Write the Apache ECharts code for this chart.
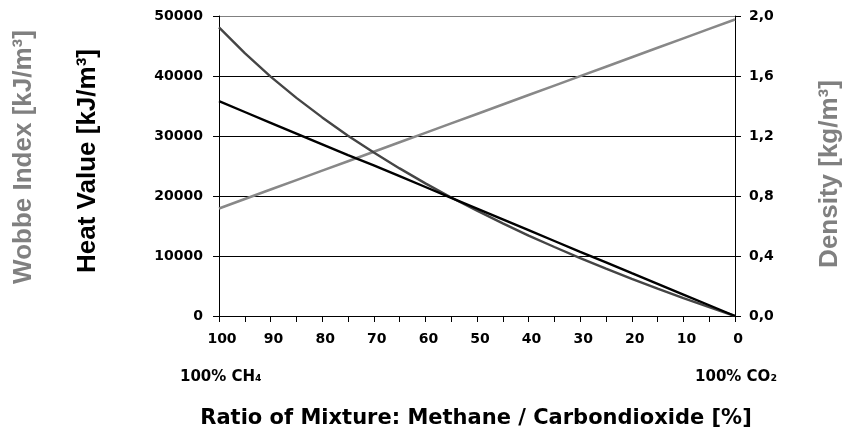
<!DOCTYPE html>
<html>
<head>
<meta charset="utf-8">
<script src="https://cdn.jsdelivr.net/npm/echarts@6/dist/echarts.min.js"></script>
<style>html,body{margin:0;padding:0;background:#fff;}#chart{width:845px;height:441px;}</style>
</head>
<body>
<div id="chart"></div>
<script>
// Ratio of methane in the mixture [%]
const categories = ['100','95','90','85','80','75','70','65','60','55','50','45','40','35','30','25','20','15','10','5','0'];
// Heat value [kJ/m³]
const heatValue = [35800, 34000, 32200, 30400, 28600, 26800, 25100, 23300, 21500, 19700, 17900, 16100, 14300, 12500, 10700, 8950, 7150, 5370, 3580, 1790, 0];
// Wobbe index [kJ/m³]
const wobbeIndex = [48100, 43800, 39900, 36350, 33100, 30050, 27250, 24600, 22100, 19750, 17550, 15450, 13400, 11500, 9650, 7900, 6200, 4570, 2990, 1470, 0];
// Density [kg/m³]
const density = [0.717, 0.780, 0.843, 0.906, 0.969, 1.032, 1.095, 1.158, 1.221, 1.284, 1.347, 1.410, 1.473, 1.536, 1.599, 1.662, 1.725, 1.788, 1.851, 1.914, 1.977];

const labelFont = 'DejaVu Sans';
const titleFont = 'Liberation Sans';

const chart = echarts.init(document.getElementById('chart'), null, {renderer: 'canvas'});
chart.setOption({
  animation: false,
  backgroundColor: '#ffffff',
  grid: {left: 219, right: 110, top: 16, bottom: 125, containLabel: false},
  xAxis: {
    type: 'category',
    data: categories,
    boundaryGap: false,
    axisLine: {lineStyle: {color: '#000', width: 1}},
    axisTick: {show: true, interval: 0, length: 6, inside: false, lineStyle: {color: '#000'}},
    axisLabel: {interval: 1, margin: 16, color: '#000', fontFamily: labelFont, fontWeight: 'bold', fontSize: 14, padding: [0, 0, 0, 6]},
    splitLine: {show: false}
  },
  yAxis: [
    {
      type: 'value', min: 0, max: 50000, interval: 10000, position: 'left',
      axisLine: {show: true, lineStyle: {color: '#000', width: 1}},
      axisTick: {show: true, length: 6, inside: false, lineStyle: {color: '#000'}},
      axisLabel: {margin: 16, color: '#000', fontFamily: labelFont, fontWeight: 'bold', fontSize: 14,
        formatter: v => String(v)},
      splitLine: {show: true, lineStyle: {color: ['#000000','#000000','#000000','#000000','#000000','#808080'], width: 1}}
    },
    {
      type: 'value', min: 0, max: 2.0, interval: 0.4, position: 'right',
      axisLine: {show: true, lineStyle: {color: '#000', width: 1}},
      axisTick: {show: true, length: 6, inside: false, lineStyle: {color: '#000'}},
      axisLabel: {margin: 14, color: '#000', fontFamily: labelFont, fontWeight: 'bold', fontSize: 14,
        formatter: v => v.toFixed(1).replace('.', ',')},
      splitLine: {show: false}
    }
  ],
  series: [
    {name: 'Density', type: 'line', yAxisIndex: 1, data: density, symbol: 'none',
      lineStyle: {color: '#888888', width: 2.6}},
    {name: 'Wobbe Index', type: 'line', yAxisIndex: 0, data: wobbeIndex, symbol: 'none',
      lineStyle: {color: '#454545', width: 2.4}},
    {name: 'Heat Value', type: 'line', yAxisIndex: 0, data: heatValue, symbol: 'none',
      lineStyle: {color: '#000000', width: 2.4}}
  ],
  graphic: [
    {type: 'text', x: 23.5, y: 157, rotation: Math.PI / 2,
      style: {text: 'Wobbe Index [kJ/m³]', fill: '#808080', fontFamily: titleFont, fontWeight: 'bold', fontSize: 26, align: 'center', verticalAlign: 'middle'}},
    {type: 'text', x: 88, y: 161, rotation: Math.PI / 2,
      style: {text: 'Heat Value [kJ/m³]', fill: '#000000', fontFamily: titleFont, fontWeight: 'bold', fontSize: 26, align: 'center', verticalAlign: 'middle'}},
    {type: 'text', x: 830, y: 174, rotation: Math.PI / 2,
      style: {text: 'Density [kg/m³]', fill: '#808080', fontFamily: titleFont, fontWeight: 'bold', fontSize: 26, align: 'center', verticalAlign: 'middle'}},
    {type: 'text', x: 180, y: 377,
      style: {text: '100% CH₄', fill: '#000', fontFamily: labelFont, fontWeight: 'bold', fontSize: 15, align: 'left', verticalAlign: 'middle'}},
    {type: 'text', x: 736, y: 377,
      style: {text: '100% CO₂', fill: '#000', fontFamily: labelFont, fontWeight: 'bold', fontSize: 15, align: 'center', verticalAlign: 'middle'}},
    {type: 'text', x: 476, y: 419,
      style: {text: 'Ratio of Mixture: Methane / Carbondioxide [%]', fill: '#000', fontFamily: labelFont, fontWeight: 'bold', fontSize: 21, align: 'center', verticalAlign: 'middle'}}
  ]
});
</script>
</body>
</html>
